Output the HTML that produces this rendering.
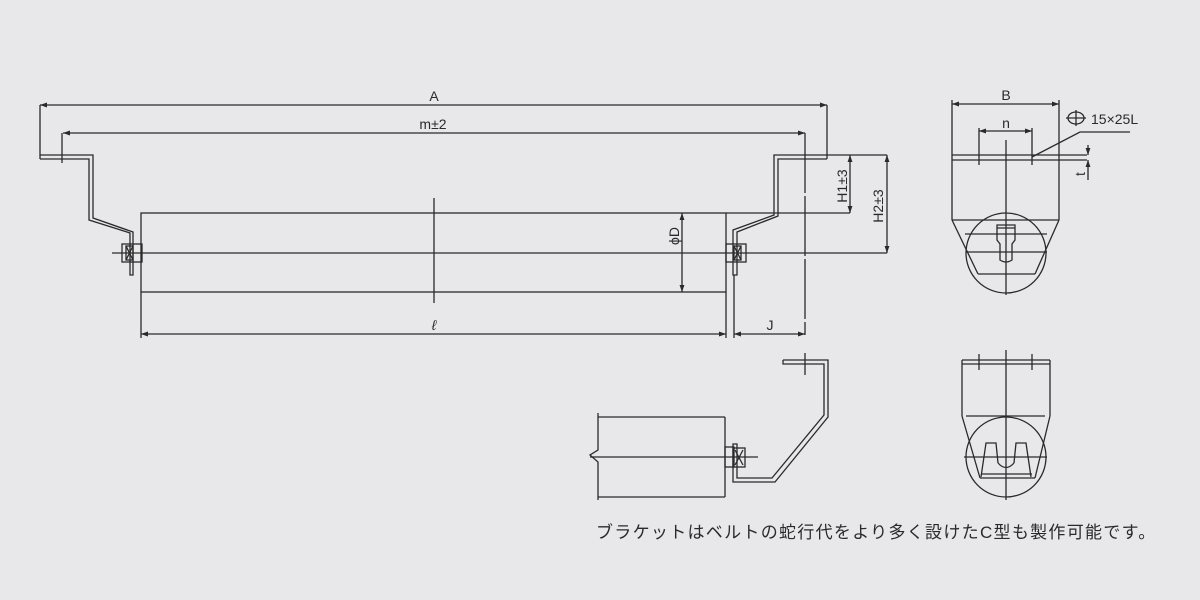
<!DOCTYPE html>
<html><head><meta charset="utf-8"><style>
html,body{margin:0;padding:0;background:#e8e8ea;}
svg{display:block}
text{font-family:"Liberation Sans","Noto Sans CJK JP",sans-serif;fill:#2a2a2a}
</style></head><body>
<svg width="1200" height="600" viewBox="0 0 1200 600" xmlns="http://www.w3.org/2000/svg">
<defs>
<marker id="ar" viewBox="0 0 10 10" refX="10" refY="5" markerWidth="9" markerHeight="7" orient="auto-start-reverse" markerUnits="userSpaceOnUse"><path d="M0,1.5 L10,5 L0,8.5 z" fill="#2a2a2a"/></marker>
</defs>
<g stroke="#2a2a2a" stroke-width="1.3" fill="none">
<line x1="40" y1="105" x2="827" y2="105" marker-start="url(#ar)" marker-end="url(#ar)"/>
<line x1="40" y1="105" x2="40" y2="159"/>
<line x1="827" y1="105" x2="827" y2="159"/>
<line x1="63" y1="133" x2="805" y2="133" marker-start="url(#ar)" marker-end="url(#ar)"/>
<line x1="62" y1="133" x2="62" y2="163"/>
<line x1="805" y1="133" x2="805" y2="335" stroke-dasharray="60,3"/>
<polyline points="40,155 93,155 93,218 133,232 133,275 130,275 130,233 89,220 89,159 40,159"/>
<rect x="122" y="244" width="20" height="18"/>
<rect x="126" y="246" width="7" height="14"/>
<line x1="126" y1="246" x2="133" y2="260"/><line x1="133" y1="246" x2="126" y2="260"/>
<polyline points="827,159 778,159 778,216 737,232 737,275 733,275 733,230 774,215 774,155 887,155"/>
<rect x="726" y="244" width="20" height="18"/>
<rect x="734" y="246" width="7" height="14"/>
<line x1="734" y1="246" x2="741" y2="260"/><line x1="741" y1="246" x2="734" y2="260"/>
<rect x="141" y="213" width="585" height="79"/>
<line x1="726" y1="213" x2="850" y2="213"/>
<line x1="112" y1="253" x2="887" y2="253"/>
<line x1="434" y1="198" x2="434" y2="303"/>
<line x1="682" y1="213" x2="682" y2="292" marker-start="url(#ar)" marker-end="url(#ar)"/>
<line x1="850" y1="155" x2="850" y2="213" marker-start="url(#ar)" marker-end="url(#ar)"/>
<line x1="887" y1="155" x2="887" y2="253" marker-start="url(#ar)" marker-end="url(#ar)"/>
<line x1="141" y1="292" x2="141" y2="338"/>
<line x1="726" y1="292" x2="726" y2="338"/>
<line x1="141" y1="334" x2="726" y2="334" marker-start="url(#ar)" marker-end="url(#ar)"/>
<line x1="734" y1="275" x2="734" y2="338"/>
<line x1="734" y1="334" x2="805" y2="334" marker-start="url(#ar)" marker-end="url(#ar)"/>

<line x1="952" y1="104" x2="1059" y2="104" marker-start="url(#ar)" marker-end="url(#ar)"/>
<line x1="952" y1="100" x2="952" y2="220"/>
<line x1="1059" y1="100" x2="1059" y2="220"/>
<line x1="952" y1="155" x2="1087" y2="155"/>
<line x1="952" y1="160" x2="1087" y2="160"/>
<line x1="979" y1="131" x2="1032" y2="131" marker-start="url(#ar)" marker-end="url(#ar)"/>
<line x1="979" y1="128" x2="979" y2="165"/>
<line x1="1032" y1="128" x2="1032" y2="165"/>
<line x1="1006" y1="140" x2="1006" y2="295"/>
<polyline points="1032,157 1080,132 1130,132"/>
<ellipse cx="1076" cy="118" rx="8" ry="6"/>
<line x1="1066" y1="118" x2="1086" y2="118"/><line x1="1076" y1="110" x2="1076" y2="126"/>
<line x1="1088" y1="145" x2="1088" y2="155" marker-end="url(#ar)"/>
<line x1="1088" y1="180" x2="1088" y2="160" marker-end="url(#ar)"/>
<line x1="952" y1="220" x2="1059" y2="220"/>
<polyline points="952,220 978,274"/>
<polyline points="1059,220 1035,274"/>
<circle cx="1006" cy="253" r="40"/>
<line x1="965" y1="234" x2="1047" y2="234"/>
<line x1="966" y1="252" x2="1047" y2="252"/>
<line x1="978" y1="274" x2="1035" y2="274"/>
<path d="M997,225 H1015 V240 L1012,244 V260 Q1006,264 1000,260 V244 L997,240 Z"/>
<line x1="997" y1="228" x2="1015" y2="228"/>

<polyline points="598,413 598,450 590,455 598,462 598,500"/>
<line x1="598" y1="417" x2="725" y2="417"/>
<line x1="598" y1="497" x2="725" y2="497"/>
<line x1="725" y1="417" x2="725" y2="497"/>
<line x1="590" y1="457" x2="758" y2="457"/>
<rect x="725" y="447" width="9" height="20"/>
<rect x="733" y="448" width="12" height="19"/>
<line x1="735" y1="450" x2="743" y2="465"/><line x1="743" y1="450" x2="735" y2="465"/>
<polyline points="783,360 828,360 828,417 775,482 733,482 733,444 737,444 737,478 772,478 824,415 824,364 783,364 783,360"/>
<line x1="805" y1="353" x2="805" y2="375"/>
<line x1="962" y1="360" x2="1050" y2="360"/>
<line x1="962" y1="364" x2="1050" y2="364"/>
<line x1="962" y1="360" x2="962" y2="416"/>
<line x1="1050" y1="360" x2="1050" y2="416"/>
<line x1="979" y1="354" x2="979" y2="370"/>
<line x1="1032" y1="354" x2="1032" y2="370"/>
<line x1="1006" y1="350" x2="1006" y2="500"/>
<line x1="966" y1="416" x2="1045" y2="416"/>
<line x1="962" y1="416" x2="980" y2="478"/>
<line x1="1050" y1="416" x2="1035" y2="478"/>
<circle cx="1006" cy="457" r="40"/>
<line x1="964" y1="457" x2="1047" y2="457"/>
<line x1="980" y1="478" x2="1035" y2="478"/>
<line x1="982" y1="474" x2="1032" y2="474"/>
<polyline points="981,477 986,443 996,443 998,463"/>
<path d="M998,463 Q1006,472 1014,463"/>
<polyline points="1014,463 1016,443 1026,443 1031,477"/>
</g>
<g font-size="14">
<text x="434" y="101" text-anchor="middle">A</text>
<text x="433" y="129" text-anchor="middle">m±2</text>
<text x="434" y="330" text-anchor="middle" font-style="italic">ℓ</text>
<text x="770" y="330" text-anchor="middle">J</text>
<text x="1006" y="100" text-anchor="middle">B</text>
<text x="1006" y="128" text-anchor="middle">n</text>
<text x="1091" y="124">15×25L</text>
<text transform="translate(679,236) rotate(-90)" text-anchor="middle">ϕD</text>
<text transform="translate(847,186) rotate(-90)" text-anchor="middle">H1±3</text>
<text transform="translate(883,206) rotate(-90)" text-anchor="middle">H2±3</text>
<text transform="translate(1085,174) rotate(-90)" text-anchor="middle">t</text>
</g>
<text x="596" y="538" font-size="17" letter-spacing="1.3">ブラケットはベルトの蛇行代をより多く設けたC型も製作可能です。</text>
</svg>
</body></html>
